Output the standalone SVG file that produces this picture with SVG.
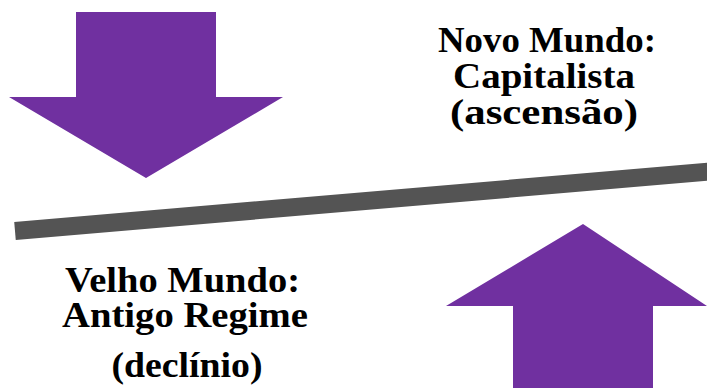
<svg xmlns="http://www.w3.org/2000/svg" width="707" height="388" viewBox="0 0 707 388">
<style>
.arrow{fill:#7030A0}
.t{font-family:"Liberation Serif","DejaVu Serif",serif;font-weight:bold;font-size:36px;fill:#000;text-anchor:middle}
</style>
<rect width="707" height="388" fill="#fff"/>
<g id="down-arrow"><polygon class="arrow" points="76,12 216,12 216,97 283,97 146,178 9,97 76,97"/></g>
<g id="up-arrow"><polygon class="arrow" points="583,224 707,306 653,306 653,388 513,388 513,306 446,306"/></g>
<g id="connectors"><line x1="15" y1="231" x2="740" y2="169" stroke="#545454" stroke-width="18"/></g>
<g id="novo-mundo">
<text class="t" x="547" y="52" textLength="218" lengthAdjust="spacingAndGlyphs">Novo Mundo:</text>
<text class="t" x="544" y="88" textLength="182" lengthAdjust="spacingAndGlyphs">Capitalista</text>
<text class="t" x="544" y="124" textLength="188" lengthAdjust="spacingAndGlyphs">(ascensão)</text>
</g>
<g id="velho-mundo">
<text class="t" x="182.5" y="292" textLength="235" lengthAdjust="spacingAndGlyphs">Velho Mundo:</text>
<text class="t" x="185" y="327" textLength="246" lengthAdjust="spacingAndGlyphs">Antigo Regime</text>
<text class="t" x="187" y="377" textLength="151" lengthAdjust="spacingAndGlyphs">(declínio)</text>
</g>
</svg>
